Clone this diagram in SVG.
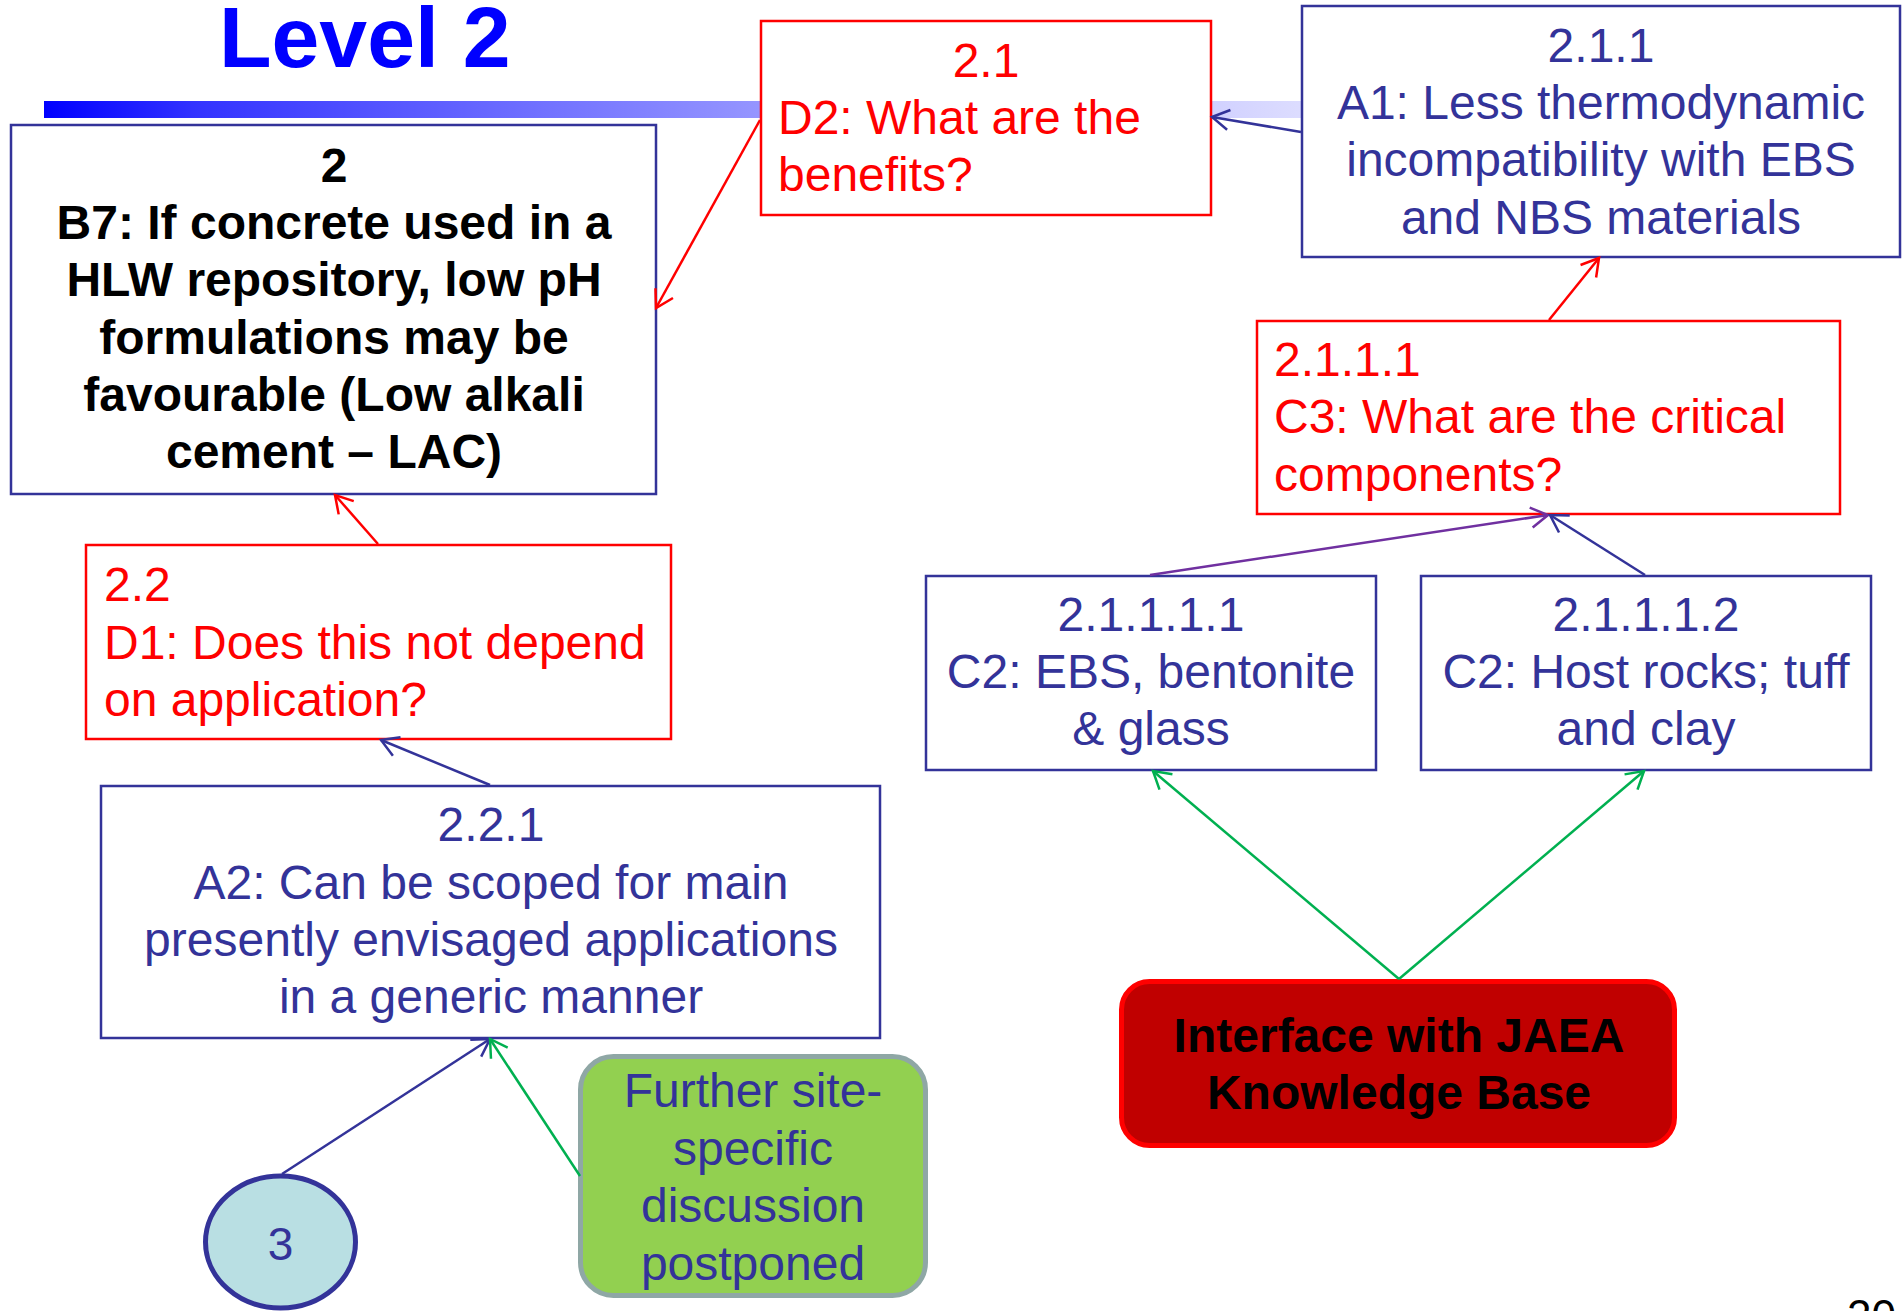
<svg xmlns="http://www.w3.org/2000/svg" width="1903" height="1311" viewBox="0 0 1903 1311">
<defs>
<linearGradient id="bar" x1="44" y1="0" x2="1305" y2="0" gradientUnits="userSpaceOnUse">
<stop offset="0" stop-color="#0000FF"/>
<stop offset="0.12" stop-color="#3333FF"/>
<stop offset="0.39" stop-color="#7070FF"/>
<stop offset="0.57" stop-color="#9696FF"/>
<stop offset="1" stop-color="#DDDDFF"/>
</linearGradient>
<marker id="aRed" markerUnits="userSpaceOnUse" markerWidth="40" markerHeight="40" viewBox="-20 -20 40 40" refX="0" refY="0" orient="auto"><path d="M-17,-10 L0,0 L-17,10" fill="none" stroke="#FF0000" stroke-width="2.5"/></marker>
<marker id="aBlue" markerUnits="userSpaceOnUse" markerWidth="40" markerHeight="40" viewBox="-20 -20 40 40" refX="0" refY="0" orient="auto"><path d="M-17,-10 L0,0 L-17,10" fill="none" stroke="#333399" stroke-width="2.5"/></marker>
<marker id="aPurple" markerUnits="userSpaceOnUse" markerWidth="40" markerHeight="40" viewBox="-20 -20 40 40" refX="0" refY="0" orient="auto"><path d="M-17,-10 L0,0 L-17,10" fill="none" stroke="#7030A0" stroke-width="2.5"/></marker>
<marker id="aGreen" markerUnits="userSpaceOnUse" markerWidth="40" markerHeight="40" viewBox="-20 -20 40 40" refX="0" refY="0" orient="auto"><path d="M-17,-10 L0,0 L-17,10" fill="none" stroke="#00B050" stroke-width="2.5"/></marker>
</defs>
<style>
text{font-family:"Liberation Sans",Arial,sans-serif;font-size:48px}
.bbox{fill:#FFFFFF;stroke:#333399;stroke-width:2.5}
.rbox{fill:#FFFFFF;stroke:#FF0000;stroke-width:2.5}
.bt{fill:#333399;text-anchor:middle}
.rt{fill:#FF0000}
.kt{fill:#000000;font-weight:bold;text-anchor:middle}
.c{fill:none;stroke-width:2.5}
</style>
<rect x="0" y="0" width="1903" height="1311" fill="#FFFFFF"/>
<text x="219" y="67" style="font-size:86px;font-weight:bold;fill:#0000FF">Level 2</text>
<rect x="44" y="101" width="1261" height="17" fill="url(#bar)"/>

<g id="n2">
<rect class="bbox" x="11" y="125" width="645" height="369"/>
<text class="kt" x="334" y="182">2</text>
<text class="kt" x="334" y="239">B7: If concrete used in a</text>
<text class="kt" x="334" y="296">HLW repository, low pH</text>
<text class="kt" x="334" y="354">formulations may be</text>
<text class="kt" x="334" y="411">favourable (Low alkali</text>
<text class="kt" x="334" y="468">cement – LAC)</text>
</g>
<g id="n2_1">
<rect class="rbox" x="761" y="21" width="450" height="194"/>
<text class="rt" x="986" y="77" text-anchor="middle">2.1</text>
<text class="rt" x="778" y="134">D2: What are the</text>
<text class="rt" x="778" y="191">benefits?</text>
</g>
<g id="n2_1_1">
<rect class="bbox" x="1302" y="6" width="598" height="251"/>
<text class="bt" x="1601" y="62">2.1.1</text>
<text class="bt" x="1601" y="119">A1: Less thermodynamic</text>
<text class="bt" x="1601" y="176">incompatibility with EBS</text>
<text class="bt" x="1601" y="234">and NBS materials</text>
</g>
<g id="n2_1_1_1">
<rect class="rbox" x="1257" y="321" width="583" height="193"/>
<text class="rt" x="1274" y="376">2.1.1.1</text>
<text class="rt" x="1274" y="433">C3: What are the critical</text>
<text class="rt" x="1274" y="491">components?</text>
</g>
<g id="n2_2">
<rect class="rbox" x="86" y="545" width="585" height="194"/>
<text class="rt" x="104" y="601">2.2</text>
<text class="rt" x="104" y="659">D1: Does this not depend</text>
<text class="rt" x="104" y="716">on application?</text>
</g>
<g id="n2_2_1">
<rect class="bbox" x="101" y="786" width="779" height="252"/>
<text class="bt" x="491" y="841">2.2.1</text>
<text class="bt" x="491" y="899">A2: Can be scoped for main</text>
<text class="bt" x="491" y="956">presently envisaged applications</text>
<text class="bt" x="491" y="1013">in a generic manner</text>
</g>
<g id="n2_1_1_1_1">
<rect class="bbox" x="926" y="576" width="450" height="194"/>
<text class="bt" x="1151" y="631">2.1.1.1.1</text>
<text class="bt" x="1151" y="688">C2: EBS, bentonite</text>
<text class="bt" x="1151" y="745">&amp; glass</text>
</g>
<g id="n2_1_1_1_2">
<rect class="bbox" x="1421" y="576" width="450" height="194"/>
<text class="bt" x="1646" y="631">2.1.1.1.2</text>
<text class="bt" x="1646" y="688">C2: Host rocks; tuff</text>
<text class="bt" x="1646" y="745">and clay</text>
</g>
<g id="nJAEA">
<rect x="1121.5" y="981.5" width="553" height="164" rx="28" fill="#C00000" stroke="#FF0000" stroke-width="5"/>
<text class="kt" x="1399" y="1052">Interface with JAEA</text>
<text class="kt" x="1399" y="1109">Knowledge Base</text>
</g>
<g id="nFurther">
<rect x="580.5" y="1056.5" width="345" height="239" rx="33" fill="#92D050" stroke="#8FA7A5" stroke-width="5"/>
<text class="bt" x="753" y="1107">Further site-</text>
<text class="bt" x="753" y="1165">specific</text>
<text class="bt" x="753" y="1222">discussion</text>
<text class="bt" x="753" y="1280">postponed</text>
</g>
<g id="n3">
<ellipse cx="280.5" cy="1242" rx="75" ry="66" fill="#B9DFE3" stroke="#333399" stroke-width="5"/>
<text class="bt" x="280.5" y="1260" style="font-size:46px">3</text>
</g>
<text x="1847" y="1331" style="font-size:44px;fill:#000000">20</text>

<g id="connectors">
<line class="c" stroke="#FF0000" x1="760" y1="120" x2="656" y2="308" marker-end="url(#aRed)"/>
<line class="c" stroke="#333399" x1="1301" y1="132" x2="1212" y2="117" marker-end="url(#aBlue)"/>
<line class="c" stroke="#FF0000" x1="1549" y1="320" x2="1599" y2="258" marker-end="url(#aRed)"/>
<line class="c" stroke="#FF0000" x1="378" y1="544" x2="335" y2="495" marker-end="url(#aRed)"/>
<line class="c" stroke="#333399" x1="490" y1="785" x2="381" y2="740" marker-end="url(#aBlue)"/>
<line class="c" stroke="#7030A0" x1="1150" y1="575" x2="1548" y2="515" marker-end="url(#aPurple)"/>
<line class="c" stroke="#333399" x1="1645" y1="575" x2="1550" y2="515" marker-end="url(#aBlue)"/>
<line class="c" stroke="#00B050" x1="1399" y1="979" x2="1153" y2="771" marker-end="url(#aGreen)"/>
<line class="c" stroke="#00B050" x1="1399" y1="979" x2="1644" y2="771" marker-end="url(#aGreen)"/>
<line class="c" stroke="#333399" x1="282" y1="1174" x2="490" y2="1039" marker-end="url(#aBlue)"/>
<line class="c" stroke="#00B050" x1="580" y1="1176" x2="490" y2="1039" marker-end="url(#aGreen)"/>
</g>
</svg>
